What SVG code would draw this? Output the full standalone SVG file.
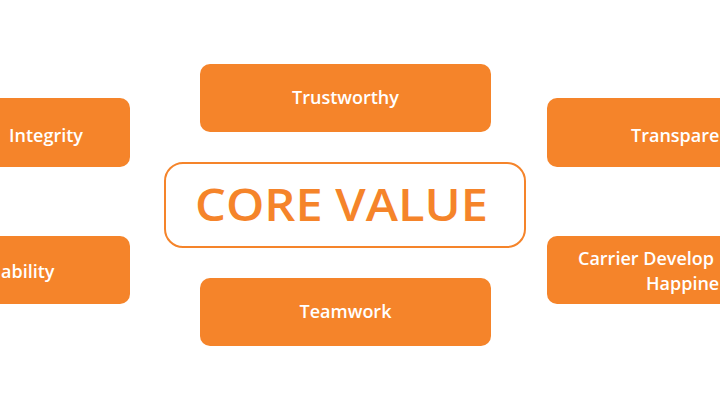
<svg xmlns="http://www.w3.org/2000/svg" width="720" height="412" viewBox="0 0 720 412">
<style>
.box{fill:#F5842A;}
.lbl{fill:#FFFFFF;font-family:"Open Sans","Noto Sans",sans-serif;font-size:18px;font-weight:600;}
.core{fill:#F5842A;font-family:"Open Sans","Noto Sans",sans-serif;font-size:46px;font-weight:600;}
</style>
<rect width="720" height="412" fill="#FFFFFF"/>
<g id="connectors"></g>
<g id="core">
<rect x="165" y="163" width="360" height="84" rx="18" fill="#FFFFFF" stroke="#F5842A" stroke-width="2"/>
<text class="core" x="341.5" y="221" text-anchor="middle" textLength="293" lengthAdjust="spacingAndGlyphs">CORE VALUE</text>
</g>
<g id="trustworthy">
<rect class="box" x="200" y="64" width="291" height="68" rx="10"/>
<text class="lbl" x="345.5" y="104" text-anchor="middle">Trustworthy</text>
</g>
<g id="teamwork">
<rect class="box" x="200" y="278" width="291" height="68" rx="10"/>
<text class="lbl" x="345.5" y="318" text-anchor="middle">Teamwork</text>
</g>
<g id="integrity">
<rect class="box" x="-161" y="98" width="291" height="69" rx="10"/>
<text class="lbl" x="83" y="142" text-anchor="end">Integrity</text>
</g>
<g id="ability">
<rect class="box" x="-161" y="236" width="291" height="68" rx="10"/>
<text class="lbl" x="1" y="278">ability</text>
</g>
<g id="transparency">
<rect class="box" x="547" y="98" width="291" height="69" rx="10"/>
<text class="lbl" x="631" y="142">Transpare</text>
</g>
<g id="career">
<rect class="box" x="547" y="236" width="291" height="68" rx="10"/>
<text class="lbl" x="578" y="265">Carrier Develop</text>
<text class="lbl" x="646" y="290">Happine</text>
</g>
</svg>
